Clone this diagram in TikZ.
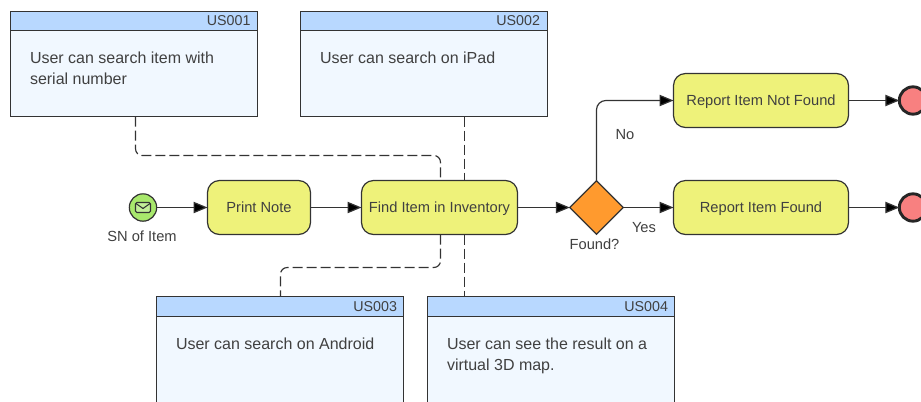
\documentclass[tikz,border=0pt]{standalone}
\usepackage{fontspec}
\setmainfont{Liberation Sans}
\usetikzlibrary{arrows.meta,shapes.geometric,calc}
\definecolor{lineC}{HTML}{333333}
\definecolor{textC}{HTML}{404040}
\definecolor{cardHead}{HTML}{B8D8FF}
\definecolor{cardBody}{HTML}{F1F8FF}
\definecolor{taskFill}{HTML}{EEF27A}
\definecolor{gateFill}{HTML}{FF9A2E}
\definecolor{startFill}{HTML}{A8E86C}
\definecolor{endFill}{HTML}{F88080}
\tikzset{
  x=0.75pt,y=-0.75pt,
  every node/.style={font=\fontsize{11}{15.75}\selectfont,text=textC,inner sep=0pt,outer sep=0pt},
  cardbody/.style={draw=lineC,fill=cardBody,line width=0.9pt,minimum width=185.25pt},
  cardhead/.style={draw=lineC,fill=cardHead,line width=0.9pt,minimum width=185.25pt,minimum height=14.25pt},
  cardtag/.style={anchor=east,font=\fontsize{10.7}{13}\selectfont},
  cardtext/.style={anchor=north west,align=left,font=\fontsize{12}{15.75}\selectfont},
  task/.style={draw=lineC,fill=taskFill,line width=0.9pt,rounded corners=9pt,minimum height=40.5pt,text=black!75},
  gate/.style={draw=lineC,fill=gateFill,line width=0.9pt,diamond,aspect=1,minimum width=40pt,minimum height=40pt},
  startev/.style={draw=lineC,fill=startFill,line width=0.9pt,circle,minimum size=20.5pt},
  endev/.style={draw=black!85,fill=endFill,line width=2.2pt,circle,minimum size=20.5pt},
  flow/.style={draw=lineC,line width=0.9pt,-{Triangle[length=10.5pt,width=8.5pt,fill=black]},rounded corners=7pt},
  dep/.style={draw=lineC,line width=0.85pt,dash pattern=on 7.5pt off 3pt,rounded corners=5pt},
  lbl/.style={text=textC}
}
\begin{document}
\begin{tikzpicture}
\clip (0,0) rectangle (921,401);
\fill[white] (0,0) rectangle (921,401);

\coordinate (axA) at (135.5,155.5);
\coordinate (axB) at (464.5,207.5);
\coordinate (axC) at (440.5,207.5);
\coordinate (axD) at (280.5,267.5);

% cards
\node[cardbody,minimum height=78.75pt] (us1) at (134,64) {};
\node[cardhead] (us1h) at (134,21) {};
\node[cardtag] (us1t) at (250.5,21) {US001};
\node[cardtext] (us1x) at (30,52) {User can search item with\\serial number};

\node[cardbody,minimum height=78.75pt] (us2) at (424,64) {};
\node[cardhead] (us2h) at (424,21) {};
\node[cardtag] (us2t) at (540,21) {US002};
\node[cardtext] (us2x) at (320,52) {User can search on iPad};

\node[cardbody,minimum height=84pt] (us3) at (280,352.5) {};
\node[cardhead,minimum height=15pt] (us3h) at (280,306.5) {};
\node[cardtag] (us3t) at (397,306.5) {US003};
\node[cardtext] (us3x) at (176,338) {User can search on Android};

\node[cardbody,minimum height=84pt] (us4) at (551,352.5) {};
\node[cardhead,minimum height=15pt] (us4h) at (551,306.5) {};
\node[cardtag] (us4t) at (668,306.5) {US004};
\node[cardtext] (us4x) at (447,338) {User can see the result on a\\virtual 3D map.};

% flow objects
\node[startev] (start) at (143,207.5) {};
\draw[lineC,fill=startFill!70!white,line width=0.8pt,rounded corners=1pt] (135.5,202.5) rectangle (150.5,212.5);
\draw[lineC,line width=0.8pt] (136,203.5) -- (143,208.5) -- (150,203.5);
\node[lbl] (startl) at (142,236) {SN of Item};

\node[task,minimum width=77.25pt,text depth=0pt] (print) at (259,207.5) {Print Note};
\node[task,minimum width=117pt,text depth=0pt] (find) at (439.5,207.5) {Find Item in Inventory};
\node[gate] (gate) at (596.5,207.5) {};
\node[lbl] (gatel) at (594.5,244) {Found?};
\node[lbl] (yesl) at (644,228) {Yes};
\node[lbl] (nol) at (625,135) {No};
\node[task,minimum width=131.25pt,text depth=0pt] (notf) at (761,100.5) {Report Item Not Found};
\node[task,minimum width=131.25pt,text depth=0pt] (fnd) at (761,207.5) {Report Item Found};
\node[endev] (end1) at (913,100.5) {};
\node[endev] (end2) at (913,207.5) {};

% sequence flows
\draw[flow] (start) -- (print);
\draw[flow] (print) -- (find);
\draw[flow] (find) -- (gate);
\draw[flow] (gate) -- (fnd);
\draw[flow] (gate.north) |- (notf.west);
\draw[flow] (notf) -- (end1);
\draw[flow] (fnd) -- (end2);

% dependencies
\draw[dep] (axA |- us1.south) -- (axA) -- (axC |- axA) -- (axC |- find.north);
\draw[dep] (axB |- us2.south) -- (axB |- find.north);
\draw[dep] (axB |- find.south) -- (axB |- us4h.north);
\draw[dep] (axC |- find.south) -- (axC |- axD) -- (axD) -- (axD |- us3h.north);
\end{tikzpicture}
\end{document}
